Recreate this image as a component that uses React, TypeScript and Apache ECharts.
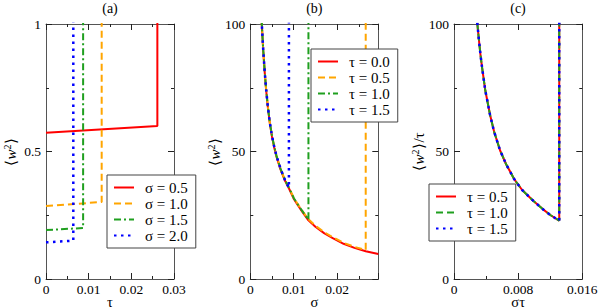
import React, { useEffect, useRef } from "react";
import * as echarts from "echarts";

const FONT = "Times New Roman";

// ---------- Panel (a): <w^2> vs tau ----------
const A_NAMES = ["σ = 0.5", "σ = 1.0", "σ = 1.5", "σ = 2.0"];
const A_SIGMA05 = [[0, 0.574], [0.0261, 0.6], [0.0261, 1.1]];
const A_SIGMA10 = [[0, 0.286], [0.01305, 0.302], [0.01305, 1.1]];
const A_SIGMA15 = [[0, 0.192], [0.0087, 0.2], [0.0087, 1.1]];
const A_SIGMA20 = [[0, 0.144], [0.0064, 0.15], [0.0064, 1.1]];

// ---------- Panel (b): <w^2> vs sigma ----------
const B_NAMES = ["τ = 0.0", "τ = 0.5", "τ = 1.0", "τ = 1.5"];
const B_TAU00 = [
  [0.0026, 101.5], [0.0028, 95], [0.003, 89], [0.0033, 81.5], [0.0036, 75], [0.004, 68],
  [0.0045, 61], [0.005, 55.8], [0.0055, 51.7], [0.006, 48.2], [0.007, 42.8], [0.008, 38.5],
  [0.009, 35.2], [0.01, 31.5], [0.011, 28.8], [0.012, 26.3], [0.0134, 23.0], [0.015, 20.5],
  [0.017, 18.0], [0.019, 16.0], [0.0215, 13.8], [0.024, 12.2], [0.0266, 10.9], [0.0295, 9.8],
];
const B_TAU05 = [
  [0.0026, 101.8], [0.0028, 95.3], [0.003, 89.3], [0.0033, 81.8], [0.0036, 75.3], [0.004, 68.3],
  [0.0045, 61.3], [0.005, 56.1], [0.0055, 52.0], [0.006, 48.5], [0.007, 43.1], [0.008, 38.8],
  [0.009, 35.5], [0.01, 31.9], [0.011, 29.2], [0.012, 26.7], [0.0134, 23.4], [0.015, 20.9],
  [0.017, 18.4], [0.019, 16.4], [0.0215, 14.2], [0.024, 12.6], [0.0266, 11.4], [0.0266, 105],
];
const B_TAU10 = [
  [0.0026, 101.8], [0.0028, 95.3], [0.003, 89.3], [0.0033, 81.8], [0.0036, 75.3], [0.004, 68.3],
  [0.0045, 61.3], [0.005, 56.1], [0.0055, 52.0], [0.006, 48.5], [0.007, 43.1], [0.008, 38.8],
  [0.009, 35.5], [0.01, 31.8], [0.011, 29.1], [0.012, 26.6], [0.0134, 23.2], [0.0134, 105],
];
const B_TAU15 = [
  [0.0026, 101.8], [0.0028, 95.3], [0.003, 89.3], [0.0033, 81.8], [0.0036, 75.3], [0.004, 68.3],
  [0.0045, 61.3], [0.005, 56.1], [0.0055, 52.0], [0.006, 48.5], [0.007, 43.1], [0.008, 38.8],
  [0.0089, 35.8], [0.0089, 105],
];

// ---------- Panel (c): <w^2>/tau vs sigma*tau ----------
const C_NAMES = ["τ = 0.5", "τ = 1.0", "τ = 1.5"];
const C_CURVE = [
  [0.0029, 100.5], [0.0031, 94], [0.0033, 88], [0.0035, 83], [0.0039, 74], [0.0045, 64.3],
  [0.005, 57.8], [0.00575, 50.4], [0.0065, 45], [0.0075, 39.2], [0.0085, 34.9], [0.00991, 30.6],
  [0.011, 27.6], [0.012, 25.1], [0.013125, 22.9], [0.013125, 105],
];
const C_TAU05 = C_CURVE;
const C_TAU10 = C_CURVE;
const C_TAU15 = C_CURVE;

// axis ranges
const A_X = { min: 0, max: 0.03, interval: 0.01 };
const A_Y = { min: 0, max: 1, interval: 0.5 };
const B_X = { min: 0, max: 0.0295, interval: 0.01 };
const B_Y = { min: 0, max: 100, interval: 50 };
const C_X = { min: 0, max: 0.016, interval: 0.008 };
const C_Y = { min: 0, max: 100, interval: 50 };

const RED = "#ff0000";
const ORANGE = "#ffa500";
const GREEN = "#1f9f1f";
const BLUE = "#0000ff";

const SOLID = { type: "solid", width: 2 };
const DASHED = { type: [7, 4], width: 2 };
const DASHDOT = { type: [7, 3, 2, 3], width: 2 };
const DOTTED = { type: [2.5, 4.5], width: 2.5 };

const GRIDS = [
  { left: 46, top: 24, width: 128, height: 255, outerBoundsMode: "none", containLabel: false },
  { left: 250.3, top: 24, width: 128, height: 255, outerBoundsMode: "none", containLabel: false },
  { left: 454, top: 24, width: 128.3, height: 255, outerBoundsMode: "none", containLabel: false },
];

function axisCommon(gridIndex: number, range: any, position: string, labels: boolean, extra: any = {}) {
  return {
    type: "value",
    gridIndex,
    position,
    min: range.min,
    max: range.max,
    interval: range.interval,
    nameMoveOverlap: false,
    axisLine: { show: true, onZero: false, lineStyle: { color: "#555", width: 1 } },
    axisTick: { show: true, inside: true, length: 6, lineStyle: { color: "#222", width: 1 } },
    minorTick: { show: true, splitNumber: 2, length: 3, lineStyle: { color: "#222", width: 1 } },
    splitLine: { show: false },
    minorSplitLine: { show: false },
    axisLabel: {
      show: labels,
      fontFamily: FONT,
      fontSize: 13.5,
      lineHeight: 12,
      color: "#000",
      margin: position === "bottom" ? 4 : 5,
      ...(extra.axisLabel || {}),
    },
  };
}

const xName = (name: string) => ({
  name,
  nameLocation: "middle",
  nameGap: 16,
  nameMoveOverlap: false,
  nameTextStyle: { fontFamily: FONT, fontSize: 14.5, lineHeight: 13, color: "#000" },
});

const yRich = {
  b: { fontFamily: FONT, fontSize: 15, color: "#000" },
  w: { fontFamily: FONT, fontSize: 15, fontStyle: "italic", color: "#000" },
  s: { fontFamily: FONT, fontSize: 10, color: "#000", verticalAlign: "top", padding: [0, 1, 7, 0] },
};
const yName = (name: string) => ({
  name,
  nameLocation: "middle",
  nameRotate: 90,
  nameGap: 27,
  nameMoveOverlap: false,
  nameTextStyle: { fontFamily: FONT, fontSize: 15, color: "#000", rich: yRich },
});

function series(name: string, data: number[][], color: string, ls: any, idx: number) {
  return {
    type: "line",
    name,
    data,
    xAxisIndex: idx * 2,
    yAxisIndex: idx * 2,
    showSymbol: false,
    symbol: "none",
    clip: true,
    smooth: false,
    lineStyle: { color, ...ls, cap: "butt" },
    itemStyle: { color },
  };
}

const legendBase = {
  orient: "vertical",
  itemWidth: 20,
  itemHeight: 14,
  itemGap: 1,
  padding: [5, 8, 5, 6],
  borderColor: "#444",
  borderWidth: 1,
  borderRadius: 0,
  backgroundColor: "#fff",
  selectedMode: false,
  itemStyle: { opacity: 0 },
  textStyle: { fontFamily: FONT, fontSize: 15, color: "#000", lineHeight: 14, padding: [0, 0, 0, 6] },
  formatter: (n: string) => (n.indexOf("|") >= 0 ? n.split("|")[1] : n),
  z: 10,
};

const TITLE_STYLE = { fontFamily: FONT, fontSize: 14, fill: "#000", align: "center", verticalAlign: "middle" };

export default function App() {
  const ref = useRef<HTMLDivElement>(null);
  useEffect(() => {
    if (!ref.current) return;
    const chart = echarts.init(ref.current, undefined, { renderer: "svg" });
    const option: any = {
      animation: false,
      backgroundColor: "#fff",
      grid: GRIDS,
      xAxis: [
        { ...axisCommon(0, A_X, "bottom", true), ...xName("τ") },
        axisCommon(0, A_X, "top", false),
        { ...axisCommon(1, B_X, "bottom", true, { axisLabel: { showMaxLabel: false } }), ...xName("σ") },
        axisCommon(1, B_X, "top", false),
        { ...axisCommon(2, C_X, "bottom", true), ...xName("στ") },
        axisCommon(2, C_X, "top", false),
      ],
      yAxis: [
        { ...axisCommon(0, A_Y, "left", true), ...yName("{b|⟨}{w|w}{s|2}{b|⟩}") },
        axisCommon(0, A_Y, "right", false),
        { ...axisCommon(1, B_Y, "left", true), ...yName("{b|⟨}{w|w}{s|2}{b|⟩}") },
        axisCommon(1, B_Y, "right", false),
        { ...axisCommon(2, C_Y, "left", true), ...yName("{b|⟨}{w|w}{s|2}{b|⟩/τ}") },
        axisCommon(2, C_Y, "right", false),
      ],
      legend: [
        { ...legendBase, left: 107, top: 175, data: A_NAMES.map((n) => "a|" + n) },
        { ...legendBase, left: 311, top: 49, data: B_NAMES.map((n) => "b|" + n) },
        { ...legendBase, left: 429, top: 184, data: C_NAMES.map((n) => "c|" + n) },
      ],
      graphic: [
        { type: "text", x: 110, y: 8, style: { text: "(a)", ...TITLE_STYLE } },
        { type: "text", x: 314.3, y: 8, style: { text: "(b)", ...TITLE_STYLE } },
        { type: "text", x: 518, y: 8, style: { text: "(c)", ...TITLE_STYLE } },
      ],
      series: [
        series("a|" + A_NAMES[0], A_SIGMA05, RED, SOLID, 0),
        series("a|" + A_NAMES[1], A_SIGMA10, ORANGE, DASHED, 0),
        series("a|" + A_NAMES[2], A_SIGMA15, GREEN, DASHDOT, 0),
        series("a|" + A_NAMES[3], A_SIGMA20, BLUE, DOTTED, 0),
        series("b|" + B_NAMES[0], B_TAU00, RED, SOLID, 1),
        series("b|" + B_NAMES[1], B_TAU05, ORANGE, DASHED, 1),
        series("b|" + B_NAMES[2], B_TAU10, GREEN, DASHDOT, 1),
        series("b|" + B_NAMES[3], B_TAU15, BLUE, DOTTED, 1),
        series("c|" + C_NAMES[0], C_TAU05, RED, SOLID, 2),
        series("c|" + C_NAMES[1], C_TAU10, GREEN, DASHED, 2),
        series("c|" + C_NAMES[2], C_TAU15, BLUE, DOTTED, 2),
      ],
    };
    chart.setOption(option);
    return () => chart.dispose();
  }, []);
  return (
    <div
      ref={ref}
      style={{ position: "fixed", left: 0, top: 0, width: 599, height: 308 }}
    />
  );
}
